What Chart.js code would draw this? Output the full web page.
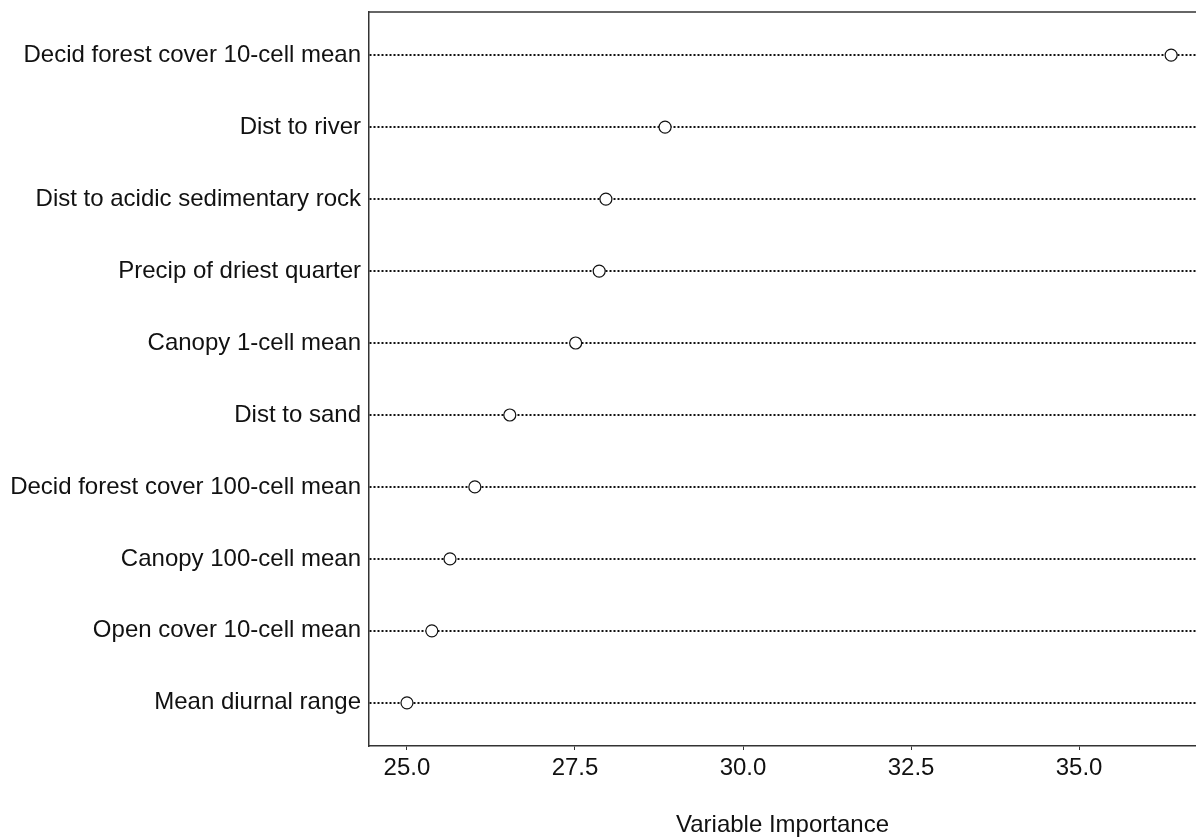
<!DOCTYPE html>
<html>
<head>
<meta charset="utf-8">
<script src="https://cdn.jsdelivr.net/npm/chart.js@4"></script>
<style>
  html, body { margin: 0; padding: 0; background: #fff; }
  #wrap { width: 1196px; height: 839px; }
</style>
</head>
<body>
<div id="wrap"><canvas id="imp"></canvas></div>
<script>
const vars = ['Decid forest cover 10-cell mean', 'Dist to river', 'Dist to acidic sedimentary rock',
    'Precip of driest quarter', 'Canopy 1-cell mean', 'Dist to sand', 'Decid forest cover 100-cell mean',
    'Canopy 100-cell mean', 'Open cover 10-cell mean', 'Mean diurnal range'];
const importance = [36.37, 28.84, 27.96, 27.86, 27.51, 26.53, 26.01, 25.64, 25.37, 25.0];
const xTicks = [25.0, 27.5, 30.0, 32.5, 35.0];

const fam = '"Liberation Sans", Arial, sans-serif';

// top border of the panel
const topLine = {
    id: 'topLine',
    afterDraw(chart) {
        const a = chart.chartArea;
        const c = chart.ctx;
        c.save();
        c.strokeStyle = '#333';
        c.lineWidth = 1.5;
        c.beginPath();
        c.moveTo(a.left, a.top);
        c.lineTo(a.right, a.top);
        c.stroke();
        c.restore();
    },
};

const ctx = document.getElementById('imp').getContext('2d');
const impc = new Chart(ctx, {
    type: 'scatter',
    data: {
        datasets: [{
            label: 'Importance',
            data: importance.map((v, i) => ({ x: v, y: i + 1 })),
            pointRadius: 6,
            pointBackgroundColor: '#fff',
            pointBorderColor: '#111',
            pointBorderWidth: 1.2,
        }],
    },
    options: {
        responsive: true,
        maintainAspectRatio: false,
        animation: false,
        layout: { autoPadding: false, padding: { top: 12, right: 0, bottom: 0, left: 0 } },
        plugins: {
            legend: { display: false },
            tooltip: { enabled: false },
        },
        scales: {
            x: {
                type: 'linear',
                min: 24.435,
                max: 36.74,
                afterBuildTicks: s => { s.ticks = xTicks.map(v => ({ value: v })); },
                afterFit: s => { s.height = 93; },
                ticks: {
                    color: '#111',
                    font: { family: fam, size: 24 },
                    padding: 4,
                    maxRotation: 0,
                    callback: v => v.toFixed(1),
                },
                grid: { drawOnChartArea: false, drawTicks: true, tickLength: 4, color: '#333', lineWidth: 1 },
                border: { display: true, color: '#333', width: 1.5 },
                title: {
                    display: true,
                    text: 'Variable Importance',
                    color: '#111',
                    font: { family: fam, size: 24, lineHeight: 1.1 },
                    padding: { top: 20, bottom: 0 },
                },
            },
            y: {
                type: 'linear',
                reverse: true,
                min: 0.4,
                max: 10.6,
                afterBuildTicks: s => { s.ticks = vars.map((v, i) => ({ value: i + 1 })); },
                afterFit: s => { s.width = 369; },
                ticks: {
                    color: '#111',
                    font: { family: fam, size: 24, lineHeight: 0.3 },
                    padding: 8,
                    callback: v => vars[v - 1],
                },
                grid: { drawTicks: false, color: '#111', lineWidth: 2 },
                border: { display: true, color: '#333', width: 1.5, dash: [2, 2] },
            },
        },
    },
    plugins: [topLine],
});
</script>
</body>
</html>
